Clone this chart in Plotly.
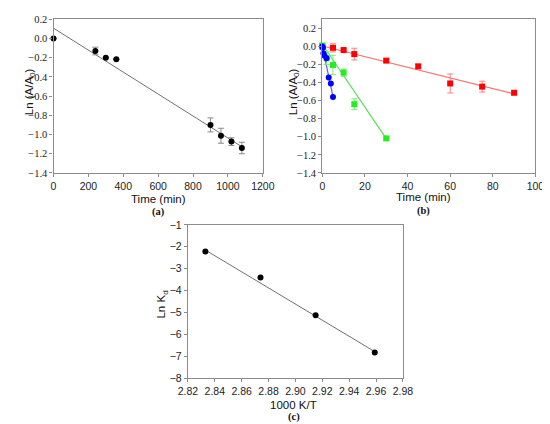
import plotly.graph_objects as go

# ---- Panel (a) ----
a_time = [0, 240, 300, 360, 900, 960, 1020, 1080]
a_ln = [0.0, -0.13, -0.20, -0.215, -0.90, -1.013, -1.074, -1.141]
a_err = [0.0, 0.04, 0.0, 0.0, 0.073, 0.078, 0.04, 0.06]
a_fit_x = [0, 1080]
a_fit_y = [0.108, -1.128]

# ---- Panel (b) ----
red_t = [0, 5, 10, 15, 30, 45, 60, 75, 90]
red_y = [0.0, -0.015, -0.04, -0.085, -0.157, -0.22, -0.41, -0.445, -0.513]
red_e = [0.0, 0.045, 0.015, 0.065, 0.02, 0.02, 0.105, 0.06, 0.02]
red_fit_x = [0, 90]
red_fit_y = [0.005, -0.525]

green_t = [0, 2, 5, 10, 15, 30]
green_y = [0.01, -0.13, -0.205, -0.29, -0.64, -1.018]
green_e = [0.01, 0.07, 0.107, 0.04, 0.06, 0.01]
green_fit_x = [0, 30]
green_fit_y = [0.024, -1.02]

blue_t = [0, 0.25, 0.5, 1, 2, 3, 4, 5]
blue_y = [0.0, -0.015, -0.076, -0.10, -0.13, -0.345, -0.41, -0.56]
blue_fit_x = [0, 5]
blue_fit_y = [0.0, -0.555]

# ---- Panel (c) ----
c_x = [2.833, 2.874, 2.915, 2.959]
c_y = [-2.22, -3.40, -5.12, -6.82]
c_fit_x = [2.833, 2.959]
c_fit_y = [-2.15, -6.78]

W, H = 550, 424
def fx(px): return px / W
def fy(py): return 1 - py / H

fig = go.Figure()

AX_GRAY = "#8c8c8c"
LINE_GRAY = "#707070"

def sc(**kw):
    kw.setdefault("cliponaxis", False)
    fig.add_trace(go.Scatter(**kw))

# Panel (a)
sc(x=a_fit_x, y=a_fit_y, mode="lines", line=dict(color=LINE_GRAY, width=1), xaxis="x", yaxis="y")
sc(x=a_time, y=a_ln, mode="markers", marker=dict(color="black", size=6),
   error_y=dict(type="data", array=a_err, color="#888888", thickness=1, width=3),
   xaxis="x", yaxis="y")

# Panel (b)
sc(x=red_fit_x, y=red_fit_y, mode="lines", line=dict(color="#ff7070", width=1.2), xaxis="x2", yaxis="y2")
sc(x=green_fit_x, y=green_fit_y, mode="lines", line=dict(color="#55e055", width=1.2), xaxis="x2", yaxis="y2")
sc(x=blue_fit_x, y=blue_fit_y, mode="lines", line=dict(color="#5a5aff", width=1.2), xaxis="x2", yaxis="y2")
sc(x=red_t, y=red_y, mode="markers", marker=dict(color="#ff0000", size=6, symbol="square"),
   error_y=dict(type="data", array=red_e, color="#ff8080", thickness=1, width=3),
   xaxis="x2", yaxis="y2")
sc(x=green_t, y=green_y, mode="markers", marker=dict(color="#22ee22", size=6, symbol="square"),
   error_y=dict(type="data", array=green_e, color="#77ee77", thickness=1, width=3),
   xaxis="x2", yaxis="y2")
sc(x=blue_t, y=blue_y, mode="markers", marker=dict(color="#0000ff", size=6),
   xaxis="x2", yaxis="y2")

# Panel (c)
sc(x=c_fit_x, y=c_fit_y, mode="lines", line=dict(color=LINE_GRAY, width=1), xaxis="x3", yaxis="y3")
sc(x=c_x, y=c_y, mode="markers", marker=dict(color="black", size=6), xaxis="x3", yaxis="y3")

SANS = "Liberation Sans"
SERIF = "Liberation Serif"

def axis(domain, rng, dtick, fmt, font, anchor, tick0=None):
    d = dict(domain=domain, range=rng, dtick=dtick, tickformat=fmt,
             showline=True, mirror=True, linecolor=AX_GRAY, linewidth=1.2,
             ticks="outside", ticklen=3, tickcolor=AX_GRAY, showgrid=False,
             zeroline=False, tickfont=dict(family=font, size=10.5, color="#222"),
             anchor=anchor)
    if tick0 is not None:
        d["tick0"] = tick0
    return d

fig.update_layout(
    width=W, height=H, margin=dict(l=0, r=0, t=0, b=0),
    paper_bgcolor="white", plot_bgcolor="white", showlegend=False,
    font=dict(family=SANS),
    xaxis=axis([fx(37), fx(255)], [0, 1200], 200, "d", SANS, "y"),
    yaxis=axis([fy(163.5), fy(5.5)], [-1.4, 0.2], 0.2, ".1f", SERIF, "x", tick0=0),
    xaxis2=axis([fx(317), fx(539)], [0, 100], 20, "d", SANS, "y2"),
    yaxis2=axis([fy(163.5), fy(5.5)], [-1.4, 0.3], 0.2, ".1f", SERIF, "x2", tick0=0),
    xaxis3=axis([fx(177), fx(401)], [2.82, 2.98], 0.02, ".2f", SANS, "y3", tick0=2.82),
    yaxis3=axis([fy(375), fy(217)], [-8, -1], 1, "d", SANS, "x3"),
)

def ann(text, x, y, size=11.5, font=SANS, angle=0):
    fig.add_annotation(text=text, x=fx(x), y=fy(y), xref="paper", yref="paper",
                       showarrow=False, textangle=angle,
                       font=dict(family=font, size=size, color="#111"),
                       xanchor="center", yanchor="middle")

ann("Time (min)", 146, 190)
ann("Ln (A/A<sub>0</sub>)", 12, 80, angle=-90)
ann("<b>(a)</b>", 146, 204, size=10.5, font=SERIF)

ann("Time (min)", 422, 188)
ann("Ln (A/A<sub>0</sub>)", 287, 80, angle=-90)
ann("<b>(b)</b>", 422, 203, size=10.5, font=SERIF)

ann("1000 K/T", 287, 402)
ann("Ln K<sub>d</sub>", 150, 299, angle=-90)
ann("<b>(c)</b>", 287, 415, size=10.5, font=SERIF)

fig.write_html("out.html")
